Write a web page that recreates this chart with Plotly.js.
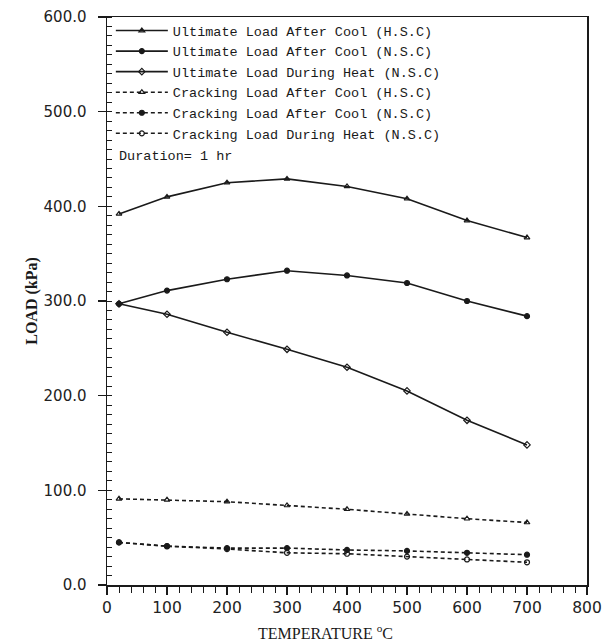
<!DOCTYPE html>
<html><head><meta charset="utf-8">
<script src="https://cdn.plot.ly/plotly-3.0.1.min.js"></script>
<style>html,body{margin:0;padding:0;background:#fff}#chart{width:611px;height:643px}</style>
</head><body><div id="chart"></div>
<script>
const temperature = [20, 100, 200, 300, 400, 500, 600, 700];
const ultimateAfterCoolHSC = [392, 410, 425, 429, 421, 408, 385, 367];
const ultimateAfterCoolNSC = [297, 311, 323, 332, 327, 319, 300, 284];
const ultimateDuringHeatNSC = [297, 286, 267, 249, 230, 205, 174, 148];
const crackingAfterCoolHSC = [91, 90, 88, 84, 80, 75, 70, 66];
const crackingAfterCoolNSC = [45, 41, 39, 39, 37, 36, 34, 32];
const crackingDuringHeatNSC = [45, 41, 38, 34, 33, 30, 27, 24];
const xTickValues = [0, 100, 200, 300, 400, 500, 600, 700, 800];
const seriesNames = [
  "Ultimate Load After Cool (H.S.C)",
  "Ultimate Load After Cool (N.S.C)",
  "Ultimate Load During Heat (N.S.C)",
  "Cracking Load After Cool (H.S.C)",
  "Cracking Load After Cool (N.S.C)",
  "Cracking Load During Heat (N.S.C)"
];
const seriesValues = [ultimateAfterCoolHSC, ultimateAfterCoolNSC, ultimateDuringHeatNSC,
  crackingAfterCoolHSC, crackingAfterCoolNSC, crackingDuringHeatNSC];
const symbols = ["triangle-up-open", "circle", "diamond-open", "triangle-up-open", "circle", "circle-open"];
const dashed = [false, false, false, true, true, true];
const ink = "#1a1a1a";
const mono = "Liberation Mono, Courier New, monospace";
const serif = "Liberation Serif, Times New Roman, serif";

const traces = seriesValues.map((v, i) => ({
  x: temperature, y: v, name: seriesNames[i], type: "scatter", mode: "lines+markers",
  line: {color: ink, width: 1.6, dash: dashed[i] ? "4px,3px" : "solid"},
  marker: {symbol: symbols[i], size: 5, color: ink, line: {color: ink, width: 1.2}}
}));

const layout = {
  width: 611, height: 643,
  margin: {l: 107, r: 24, t: 17, b: 58},
  paper_bgcolor: "#fff", plot_bgcolor: "#fff",
  showlegend: true,
  legend: {x: 0.008, y: 1.003, xanchor: "left", yanchor: "top",
    font: {family: mono, size: 13.5, color: ink},
    bgcolor: "rgba(0,0,0,0)", tracegroupgap: 0, itemwidth: 52},
  xaxis: {range: [0, 800], tickvals: xTickValues, ticktext: xTickValues.map(String),
    showgrid: false, zeroline: false, showline: true, linecolor: ink, linewidth: 1.5, mirror: true,
    ticks: "outside", ticklen: 8, tickcolor: ink, tickwidth: 1.3,
    minor: {dtick: 20, ticks: "outside", ticklen: 6, tickcolor: ink, tickwidth: 1},
    tickfont: {family: "DejaVu Sans, sans-serif", size: 15.5, color: "#222"}},
  yaxis: {range: [0, 600], dtick: 100, tickformat: ".1f",
    showgrid: false, zeroline: false, showline: true, linecolor: ink, linewidth: 1.5, mirror: true,
    ticks: "outside", ticklen: 8, tickcolor: ink, tickwidth: 1.3, ticklabelstandoff: 8,
    minor: {dtick: 10, ticks: "inside", ticklen: 5, tickcolor: ink, tickwidth: 1},
    tickfont: {family: "DejaVu Sans, sans-serif", size: 15, color: "#222"},
    title: {text: "LOAD (kPa)", standoff: 2,
      font: {family: serif, size: 16, color: ink, weight: "bold"}}},
  annotations: [
    {xref: "paper", yref: "paper", x: 0.02, y: 0.755, xanchor: "left", yanchor: "middle",
      text: "Duration= 1 hr", showarrow: false, font: {family: mono, size: 13.5, color: ink}},
    {xref: "paper", yref: "paper", x: 0.455, y: -0.083, xanchor: "center", yanchor: "middle",
      text: "TEMPERATURE <sup>o</sup>C", showarrow: false,
      font: {family: serif, size: 16, color: ink}}
  ]
};
Plotly.newPlot("chart", traces, layout, {displayModeBar: false, staticPlot: true});
</script></body></html>
